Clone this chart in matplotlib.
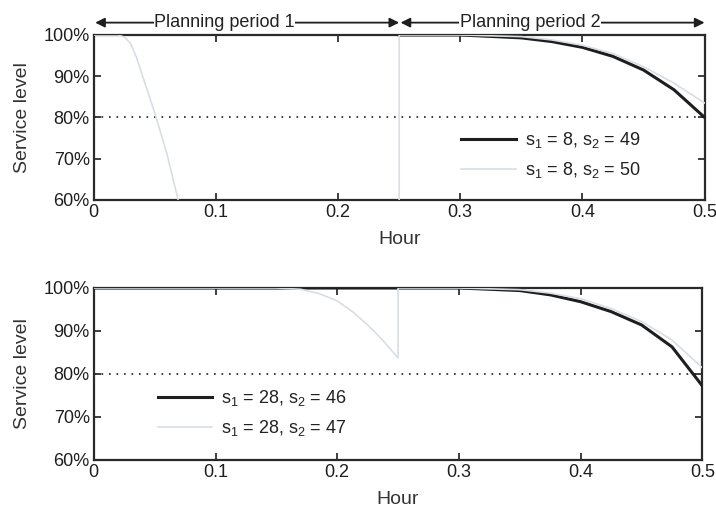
import matplotlib
matplotlib.use("Agg")
import matplotlib.pyplot as plt
import numpy as np

plt.rcParams['font.family'] = ['Liberation Sans', 'DejaVu Sans']
plt.rcParams['mathtext.fontset'] = 'custom'
plt.rcParams['mathtext.rm'] = 'Liberation Sans'

# ---- data (service level in %) ----
x_ticks = [0, 0.1, 0.2, 0.3, 0.4, 0.5]
x_ticklabels = ['0', '0.1', '0.2', '0.3', '0.4', '0.5']
y_ticks = [60, 70, 80, 90, 100]
y_ticklabels = ['60%', '70%', '80%', '90%', '100%']
target_level = 80

# top panel
top_dark_label = r'$\mathregular{s_1}$ = 8, $\mathregular{s_2}$ = 49'
top_light_label = r'$\mathregular{s_1}$ = 8, $\mathregular{s_2}$ = 50'
top_dark_x = [0.25, 0.30, 0.35, 0.375, 0.40, 0.425, 0.45, 0.475, 0.50]
top_dark_y = [100, 100, 99.3, 98.4, 97.0, 94.8, 91.5, 86.7, 80.0]
top_light_x = [0.0, 0.02, 0.025, 0.03, 0.035, 0.04, 0.045, 0.05, 0.055, 0.06, 0.069, 0.08, 0.25,
               0.25, 0.30, 0.35, 0.375, 0.40, 0.425, 0.45, 0.475, 0.50]
top_light_y = [100, 100, 99.5, 98, 94.5, 90, 85.5, 81, 76, 71, 60, 45, 40,
               100, 100, 99.6, 98.8, 97.5, 95.5, 92.3, 88.3, 83.5]

# bottom panel
bot_dark_label = r'$\mathregular{s_1}$ = 28, $\mathregular{s_2}$ = 46'
bot_light_label = r'$\mathregular{s_1}$ = 28, $\mathregular{s_2}$ = 47'
bot_dark_x = [0.0, 0.25, 0.30, 0.35, 0.375, 0.40, 0.425, 0.45, 0.475, 0.50]
bot_dark_y = [100, 100, 100, 99.4, 98.4, 96.8, 94.5, 91.4, 86.3, 77.2]
bot_light_x = [0.0, 0.15, 0.17, 0.185, 0.20, 0.2125, 0.225, 0.2375, 0.25,
               0.25, 0.30, 0.35, 0.375, 0.40, 0.425, 0.45, 0.475, 0.50]
bot_light_y = [100, 100, 99.7, 98.7, 97.0, 94.5, 91.4, 87.8, 83.7,
               100, 100, 99.6, 98.8, 97.5, 95.2, 92.2, 87.9, 81.4]

period_edges = [0, 0.25, 0.5]
period_labels = ['Planning period 1', 'Planning period 2']
period_label_x = [0.107, 0.357]

DARK = '#1e1e1e'
LIGHT = '#d8dee3'
FS = 13

fig = plt.figure(figsize=(7.16, 5.07), dpi=100)
ax1 = fig.add_axes([0.131, 0.606, 0.853, 0.325])
ax2 = fig.add_axes([0.131, 0.093, 0.850, 0.339])


def style(ax):
    ax.set_xlim(0, 0.5)
    ax.set_ylim(60, 100)
    ax.set_xticks(x_ticks)
    ax.set_xticklabels(x_ticklabels)
    ax.set_yticks(y_ticks)
    ax.set_yticklabels(y_ticklabels)
    ax.tick_params(direction='in', top=True, right=True, length=5, width=1.2,
                   labelsize=FS, colors=DARK, pad=3)
    for s in ax.spines.values():
        s.set_linewidth(1.6)
        s.set_color('#2a2a2a')
    ax.axhline(target_level, color=DARK, lw=1.2, ls=(0, (1, 3.5)), zorder=1)
    ax.set_ylabel('Service level', fontsize=14, color='#333333', labelpad=9)
    ax.set_xlabel('Hour', fontsize=14, color='#333333', labelpad=7)


style(ax1)
style(ax2)

ax1.plot(top_dark_x, top_dark_y, color=DARK, lw=2.2, label=top_dark_label, zorder=2.6)
ax1.plot(top_light_x, top_light_y, color=LIGHT, lw=1.2, label=top_light_label, zorder=3)
ax2.plot(bot_dark_x, bot_dark_y, color=DARK, lw=2.2, label=bot_dark_label, zorder=2.6)
ax2.plot(bot_light_x, bot_light_y, color=LIGHT, lw=1.2, label=bot_light_label, zorder=3)

leg1 = ax1.legend(loc='center left', bbox_to_anchor=(0.59, 0.27), frameon=False,
                  fontsize=FS, handlelength=3.0, handletextpad=0.5, labelspacing=0.55,
                  borderaxespad=0)
leg2 = ax2.legend(loc='center left', bbox_to_anchor=(0.093, 0.27), frameon=False,
                  fontsize=FS, handlelength=3.0, handletextpad=0.5, labelspacing=0.55,
                  borderaxespad=0)
for leg in (leg1, leg2):
    for t in leg.get_texts():
        t.set_color('#222222')

# planning period arrows above the top panel
for i in range(2):
    ax1.annotate('', xy=(period_edges[i], 103), xytext=(period_edges[i + 1], 103),
                 xycoords='data', textcoords='data', annotation_clip=False,
                 arrowprops=dict(arrowstyle='<|-|>', color=DARK, lw=1.3,
                                 mutation_scale=14, shrinkA=0, shrinkB=1))
    ax1.text(period_label_x[i], 103, period_labels[i], ha='center', va='center',
             fontsize=FS, color='#222222', clip_on=False,
             bbox=dict(facecolor='white', edgecolor='none', pad=0.4))

fig.savefig('out.png', dpi=100)
